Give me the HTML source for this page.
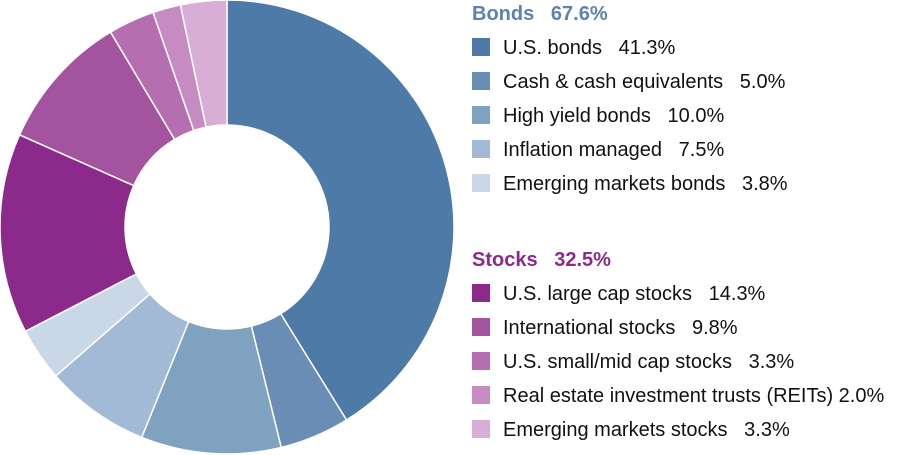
<!DOCTYPE html>
<html><head><meta charset="utf-8"><style>
body{margin:0;background:#fff;width:900px;height:455px;overflow:hidden;position:relative;font-family:"Liberation Sans",sans-serif;}
svg{position:absolute;left:0;top:0}
.h{position:absolute;left:472px;font-size:20px;font-weight:bold;white-space:pre;}
.r{position:absolute;left:472px;font-size:20px;color:#111;white-space:pre;height:34px;line-height:34px;}
.r i{display:inline-block;width:18px;height:18px;vertical-align:-2px;margin-right:13px}
</style></head><body>
<svg width="900" height="455" id="s"></svg>
<div class="h" style="top:3px;color:#5b82b0">Bonds   67.6%</div>
<div class="r" style="top:31px"><i style="background:#4e7aa7"></i>U.S. bonds   41.3%</div>
<div class="r" style="top:65px"><i style="background:#6a8db5"></i>Cash &amp; cash equivalents   5.0%</div>
<div class="r" style="top:99px"><i style="background:#7fa2c0"></i>High yield bonds   10.0%</div>
<div class="r" style="top:133px"><i style="background:#a2bad5"></i>Inflation managed   7.5%</div>
<div class="r" style="top:167px"><i style="background:#c9d7e7"></i>Emerging markets bonds   3.8%</div>
<div class="h" style="top:249px;color:#8c2a8c">Stocks   32.5%</div>
<div class="r" style="top:277px"><i style="background:#8c2a8c"></i>U.S. large cap stocks   14.3%</div>
<div class="r" style="top:311px"><i style="background:#a4549f"></i>International stocks   9.8%</div>
<div class="r" style="top:345px"><i style="background:#b56fb0"></i>U.S. small/mid cap stocks   3.3%</div>
<div class="r" style="top:379px"><i style="background:#c68cc2"></i>Real estate investment trusts (REITs) 2.0%</div>
<div class="r" style="top:413px"><i style="background:#d8aed6"></i>Emerging markets stocks   3.3%</div>
<script>
var d=[[41.3,"#4e7aa7"],[5,"#6a8db5"],[10,"#7fa2c0"],[7.5,"#a2bad5"],[3.8,"#c9d7e7"],[14.3,"#8c2a8c"],[9.8,"#a4549f"],[3.3,"#b56fb0"],[2,"#c68cc2"],[3.3,"#d8aed6"]];
var t=0;d.forEach(function(x){t+=x[0]});
var cx=227,cy=227,R=227,r=102,a=0,h="";
function p(rad,ang){return [cx+rad*Math.sin(ang),cy-rad*Math.cos(ang)];}
d.forEach(function(x){var b=a+x[0]/t*2*Math.PI;var l=(b-a)>Math.PI?1:0;
var p1=p(R,a),p2=p(R,b),p3=p(r,b),p4=p(r,a);
h+='<path d="M'+p1+' A'+R+','+R+' 0 '+l+' 1 '+p2+' L'+p3+' A'+r+','+r+' 0 '+l+' 0 '+p4+'Z" fill="'+x[1]+'" stroke="#fff" stroke-width="1.5"/>';a=b;});
document.getElementById("s").innerHTML=h;
</script>
</body></html>
